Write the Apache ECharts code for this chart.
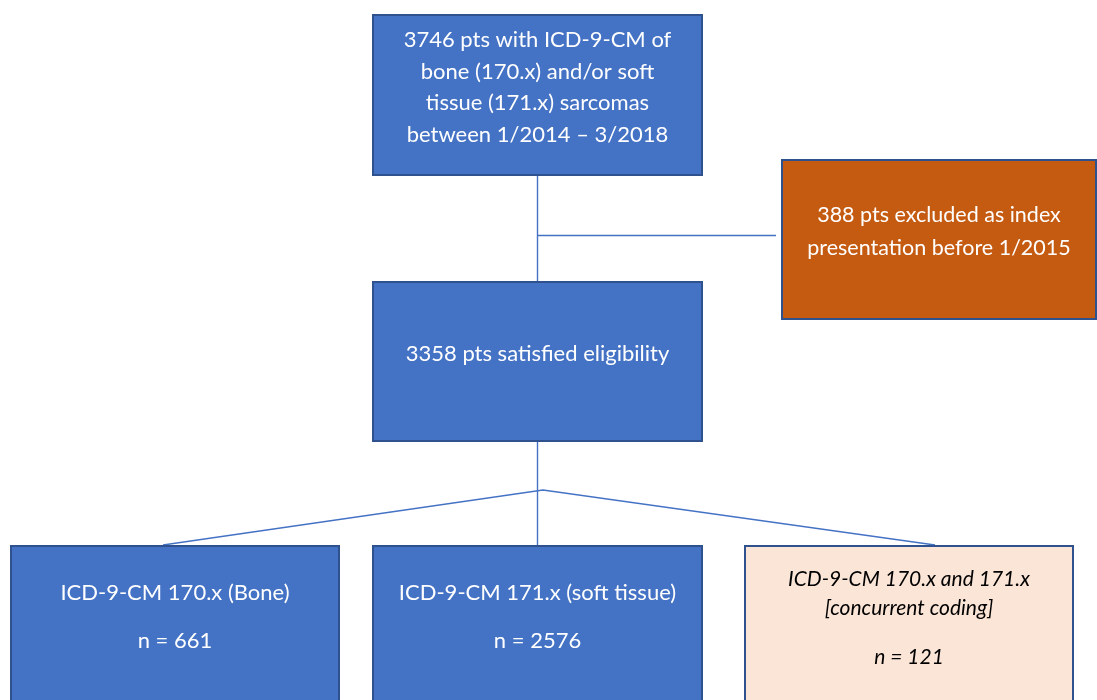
<!DOCTYPE html>
<html>
<head>
<meta charset="utf-8">
<script src="https://cdn.jsdelivr.net/npm/echarts@6/dist/echarts.min.js"></script>
<style>html,body{margin:0;padding:0;background:#fff}#c{width:1097px;height:700px}</style>
</head>
<body>
<div id="c"></div>
<script>
// Box texts (one entry per box, lines listed separately)
const boxLines = [
  ["3746 pts with ICD-9-CM of", "bone (170.x) and/or soft", "tissue (171.x) sarcomas", "between 1/2014 \u2013 3/2018"],
  ["388 pts excluded as index", "presentation before 1/2015"],
  ["3358 pts satisfied eligibility"],
  ["ICD-9-CM 170.x (Bone)", "n = 661"],
  ["ICD-9-CM 171.x (soft tissue)", "n = 2576"],
  ["ICD-9-CM 170.x and 171.x", "[concurrent coding]", "n = 121"]
];
const boxKinds = ["main", "exclude", "main", "main", "main", "concurrent"];

// Layout (positions in the hidden axis space)
const boxRects = [
  [372, 14, 703, 176],
  [781, 159, 1097, 320],
  [372, 281, 703, 442],
  [10, 545, 340, 704],
  [372, 545, 703, 704],
  [744, 545, 1074, 704]
];
const lineYs = [
  [40, 71.5, 103, 135],
  [215, 248],
  [354],
  [593, 641],
  [593, 641],
  [579, 608, 657]
];
const connectors = [
  [[537.5, 176], [537.5, 281]],
  [[537.5, 235.5], [776, 235.5]],
  [[537.5, 442], [537.5, 545]],
  [[163, 545], [543, 490], [935, 545]]
];

const styles = {
  main: {fill: "#4472C4", stroke: "#2F528F", text: "#FFFFFF", font: "22px Lato"},
  exclude: {fill: "#C55A11", stroke: "#2F528F", text: "#FFFFFF", font: "21.5px Lato"},
  concurrent: {fill: "#FBE5D6", stroke: "#2F528F", text: "#000000", font: "italic 21px Lato"}
};

const chart = echarts.init(document.getElementById('c'), null, {renderer: 'canvas'});
chart.setOption({
  animation: false,
  grid: {left: 0, right: 0, top: 0, bottom: 0},
  xAxis: {type: 'value', min: 0, max: 1097, show: false},
  yAxis: {type: 'value', min: 0, max: 700, inverse: true, show: false},
  series: [
    {
      type: 'custom',
      coordinateSystem: 'cartesian2d',
      data: connectors.map((c, i) => [i]),
      renderItem: function (params, api) {
        const pts = connectors[api.value(0)].map(p => api.coord(p));
        return {type: 'polyline', shape: {points: pts}, style: {stroke: '#4472C4', lineWidth: 1.4, fill: null}};
      },
      z: 1
    },
    {
      type: 'custom',
      coordinateSystem: 'cartesian2d',
      data: boxLines.map((l, i) => [i]),
      renderItem: function (params, api) {
        const i = api.value(0);
        const r = boxRects[i];
        const p0 = api.coord([r[0], r[1]]);
        const p1 = api.coord([r[2], r[3]]);
        const st = styles[boxKinds[i]];
        const cx = (p0[0] + p1[0]) / 2;
        const children = [{
          type: 'rect',
          shape: {x: p0[0] + 1, y: p0[1] + 1, width: p1[0] - p0[0] - 2, height: p1[1] - p0[1] - 2},
          style: {fill: st.fill, stroke: st.stroke, lineWidth: 2}
        }];
        boxLines[i].forEach((t, k) => {
          const y = api.coord([0, lineYs[i][k]])[1];
          children.push({
            type: 'text',
            style: {text: t, x: cx, y: y, align: 'center', verticalAlign: 'middle', font: st.font, fill: st.text}
          });
        });
        return {type: 'group', children: children};
      },
      z: 2
    }
  ]
});
</script>
</body>
</html>
